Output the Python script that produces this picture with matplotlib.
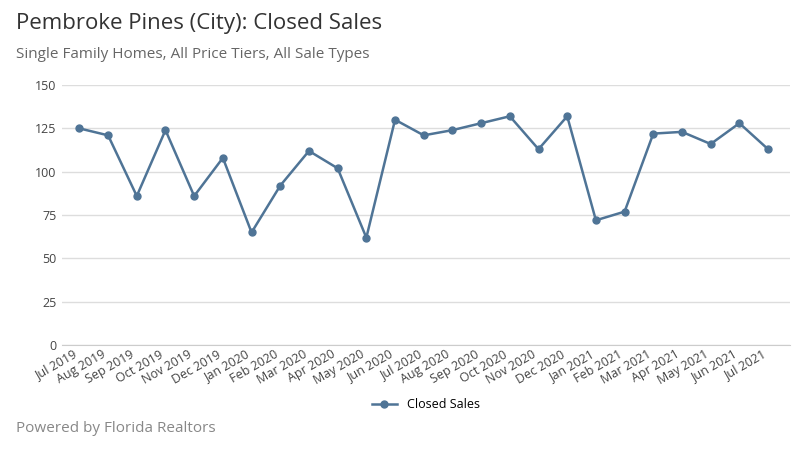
import matplotlib.pyplot as plt

months = ["Jul 2019", "Aug 2019", "Sep 2019", "Oct 2019", "Nov 2019", "Dec 2019",
          "Jan 2020", "Feb 2020", "Mar 2020", "Apr 2020", "May 2020", "Jun 2020",
          "Jul 2020", "Aug 2020", "Sep 2020", "Oct 2020", "Nov 2020", "Dec 2020",
          "Jan 2021", "Feb 2021", "Mar 2021", "Apr 2021", "May 2021", "Jun 2021", "Jul 2021"]
closed_sales = [125, 121, 86, 124, 86, 108, 65, 92, 112, 102, 62, 130,
                121, 124, 128, 132, 113, 132, 72, 77, 122, 123, 116, 128, 113]

plt.rcParams["font.family"] = "Open Sans"
fig = plt.figure(figsize=(8, 4.5), dpi=100)
ax = fig.add_axes([0.077, 0.233, 0.91, 0.578])

x = range(len(months))
ax.plot(x, closed_sales, color="#4f7496", lw=1.8, marker="o", ms=5, label="Closed Sales")
ax.set_ylim(0, 150)
ax.set_yticks([0, 25, 50, 75, 100, 125, 150])
ax.set_xlim(-0.62, len(months) - 0.25)
ax.set_xticks(list(x))
ax.set_xticklabels(months, rotation=30, ha="right", fontsize=9, color="#444444")
ax.tick_params(axis="y", labelsize=9, colors="#444444", length=0)
ax.tick_params(axis="x", length=0, pad=2)
ax.grid(axis="y", color="#dddddd", lw=1)
ax.set_axisbelow(True)
for s in ["top", "right", "left"]:
    ax.spines[s].set_visible(False)
ax.spines["bottom"].set_color("#cccccc")

ax.legend(loc="upper center", bbox_to_anchor=(0.5, -0.16), frameon=False, fontsize=9)

fig.text(0.02, 0.935, "Pembroke Pines (City): Closed Sales", fontsize=16, color="#333333")
fig.text(0.02, 0.87, "Single Family Homes, All Price Tiers, All Sale Types", fontsize=11, color="#666666")
fig.text(0.02, 0.04, "Powered by Florida Realtors", fontsize=11, color="#888888")

fig.savefig("out.png")
